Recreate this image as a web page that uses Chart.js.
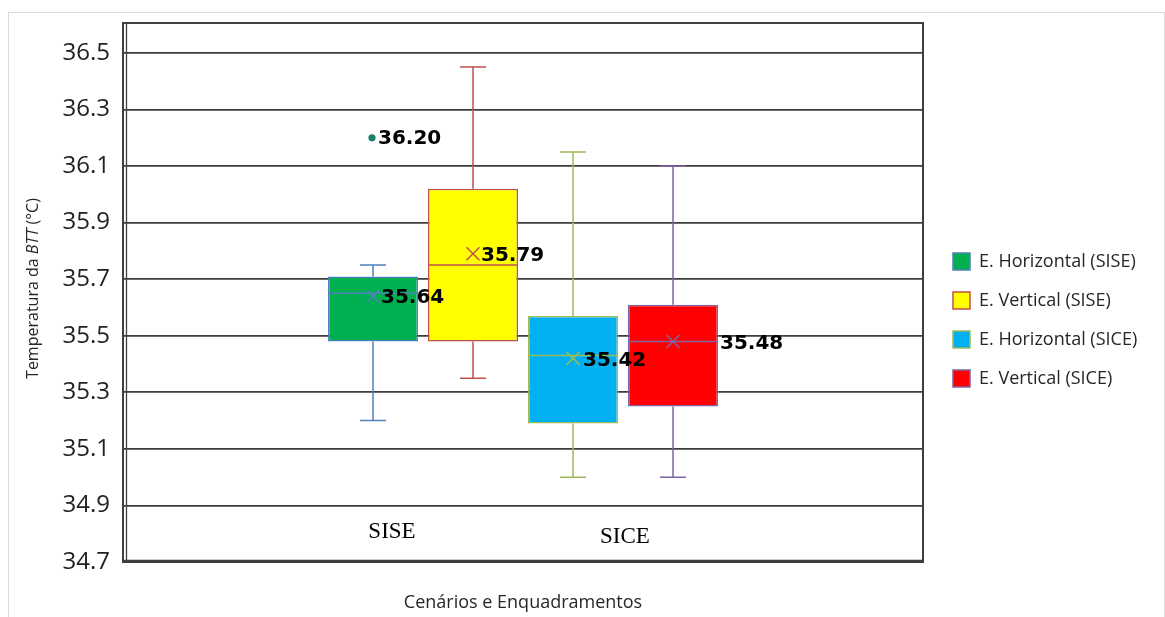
<!DOCTYPE html>
<html>
<head>
<meta charset="utf-8">
<script src="https://cdn.jsdelivr.net/npm/chart.js@4.4.1/dist/chart.umd.min.js"></script>
<style>
  html, body { margin: 0; padding: 0; background: #fff; overflow: hidden; }
  #frame { position: absolute; left: 8px; top: 12px; width: 1157px; height: 700px;
           border: 1px solid #dcdcdc; box-sizing: border-box; }
  #c { position: absolute; left: 0; top: 0; }
</style>
</head>
<body>
<div id="frame"></div>
<canvas id="c" width="1165" height="617"></canvas>
<script>
// Box-plot summary per series (°C)
const seriesNames = ['E. Horizontal (SISE)', 'E. Vertical (SISE)', 'E. Horizontal (SICE)', 'E. Vertical (SICE)'];
const groupNames  = ['SISE', 'SICE'];
const whiskerLow  = [35.20, 35.35, 35.00, 35.00];
const q1          = [35.48, 35.48, 35.19, 35.25];
const median      = [35.65, 35.75, 35.43, 35.48];
const q3          = [35.71, 36.02, 35.57, 35.61];
const whiskerHigh = [35.75, 36.45, 36.15, 36.10];
const means       = [35.64, 35.79, 35.42, 35.48];
const outliers    = [[36.20], [], [], []];
const yTicks      = [34.7, 34.9, 35.1, 35.3, 35.5, 35.7, 35.9, 36.1, 36.3, 36.5];

// Styling
const fillColors = ['#00B050', '#FFFF00', '#00B0F0', '#FF0000'];
const lineColors = ['#4F81BD', '#C0504D', '#9BBB59', '#8064A2'];
const meanLabelDx = [8, 8, 10, 47];
const groupLabelShift = [[-31, -30], [2, -25]];
const labelFont = 'bold 20px "DejaVu Sans"';
const PLOT_RIGHT = 923;     // right edge of the plot frame
const LEGEND_INSET = 9;     // extra gap between plot frame and legend

const datasets = seriesNames.map((name, i) => ({
  label: name,
  data: [[q1[i], q3[i]]],
  backgroundColor: fillColors[i],
  borderColor: lineColors[i],
  borderWidth: 1.5,
  borderSkipped: false,
  categoryPercentage: 0.5,
  barPercentage: 0.9
}));

// Keeps the legend column at a fixed width so the plot frame ends at PLOT_RIGHT
const legendLayoutPlugin = {
  id: 'legendLayout',
  beforeLayout(chart) {
    const L = chart.legend;
    if (L && !L._fixedFit) {
      const fit = L.fit.bind(L);
      L.fit = function () { fit(); this.width = chart.width - PLOT_RIGHT; };
      L._fixedFit = true;
    }
  },
  afterLayout(chart) {
    const L = chart.legend;
    if (L) { L.left += LEGEND_INSET; L.right += LEGEND_INSET; }
  }
};

// Whiskers, medians, means, outliers and value labels
const boxPlotPlugin = {
  id: 'boxPlot',
  beforeDatasetsDraw(chart) {
    const ctx = chart.ctx, a = chart.chartArea;
    ctx.save();
    ctx.strokeStyle = '#3f3f3f';
    ctx.lineWidth = 2;
    ctx.strokeRect(a.left, a.top, a.right - a.left, a.bottom - a.top);
    ctx.lineWidth = 1.3;
    ctx.beginPath();
    ctx.moveTo(a.left + 3.5, a.top + 1);
    ctx.lineTo(a.left + 3.5, a.bottom);
    ctx.moveTo(a.left, a.bottom - 1.5);
    ctx.lineTo(a.right, a.bottom - 1.5);
    ctx.stroke();
    ctx.restore();
  },
  afterDatasetsDraw(chart) {
    const ctx = chart.ctx, y = chart.scales.y;
    chart.data.datasets.forEach((ds, i) => {
      const bar = chart.getDatasetMeta(i).data[0];
      const cx = bar.x, half = bar.width / 2, cap = 13;
      const pLo = y.getPixelForValue(whiskerLow[i]);
      const pQ1 = y.getPixelForValue(q1[i]);
      const pMed = y.getPixelForValue(median[i]);
      const pQ3 = y.getPixelForValue(q3[i]);
      const pHi = y.getPixelForValue(whiskerHigh[i]);
      const pMean = y.getPixelForValue(means[i]);
      ctx.save();
      ctx.strokeStyle = lineColors[i];
      ctx.lineWidth = 1.5;
      ctx.beginPath();
      ctx.moveTo(cx, pQ1); ctx.lineTo(cx, pLo);
      ctx.moveTo(cx, pQ3); ctx.lineTo(cx, pHi);
      ctx.moveTo(cx - cap, pLo); ctx.lineTo(cx + cap, pLo);
      ctx.moveTo(cx - cap, pHi); ctx.lineTo(cx + cap, pHi);
      ctx.moveTo(cx - half, pMed); ctx.lineTo(cx + half, pMed);
      // mean marker (x)
      const m = 6.5;
      ctx.moveTo(cx - m, pMean - m); ctx.lineTo(cx + m, pMean + m);
      ctx.moveTo(cx - m, pMean + m); ctx.lineTo(cx + m, pMean - m);
      ctx.stroke();

      ctx.font = labelFont;
      ctx.fillStyle = '#000';
      ctx.textAlign = 'left';
      ctx.textBaseline = 'middle';
      ctx.fillText(means[i].toFixed(2), cx + meanLabelDx[i], pMean + 2);

      outliers[i].forEach(v => {
        const py = y.getPixelForValue(v);
        ctx.beginPath();
        ctx.arc(cx - 1, py, 3.6, 0, Math.PI * 2);
        ctx.fillStyle = '#1A7F68';
        ctx.fill();
        ctx.fillStyle = '#000';
        ctx.fillText(v.toFixed(2), cx + 5, py + 1);
      });
      ctx.restore();
    });

    // scenario names
    ctx.save();
    ctx.font = '23px "Liberation Serif"';
    ctx.fillStyle = '#000';
    ctx.textAlign = 'center';
    ctx.textBaseline = 'middle';
    groupNames.forEach((g, k) => {
      const b0 = chart.getDatasetMeta(k * 2).data[0];
      const b1 = chart.getDatasetMeta(k * 2 + 1).data[0];
      const gx = (b0.x + b1.x) / 2 + groupLabelShift[k][0];
      const gy = chart.chartArea.bottom + groupLabelShift[k][1];
      ctx.fillText(g, gx, gy);
    });
    ctx.restore();
  },
  afterDraw(chart) {
    const ctx = chart.ctx, a = chart.chartArea;
    ctx.save();
    ctx.fillStyle = '#262626';
    ctx.textBaseline = 'middle';
    // x-axis title
    ctx.font = '18px "Open Sans"';
    ctx.textAlign = 'center';
    ctx.fillText('Cenários e Enquadramentos', (a.left + a.right) / 2, a.bottom + 41);
    // y-axis title with italic part
    const parts = [['Temperatura da ', '16px "Open Sans"'], ['BTT', 'italic 16px "Open Sans"'], [' (°C)', '16px "Open Sans"']];
    let total = 0;
    parts.forEach(p => { ctx.font = p[1]; total += ctx.measureText(p[0]).width; });
    ctx.translate(33, (a.top + a.bottom) / 2 - 4);
    ctx.rotate(-Math.PI / 2);
    ctx.textAlign = 'left';
    let x = -total / 2;
    parts.forEach(p => { ctx.font = p[1]; ctx.fillText(p[0], x, 0); x += ctx.measureText(p[0]).width; });
    ctx.restore();
  }
};

new Chart(document.getElementById('c'), {
  type: 'bar',
  data: { labels: [''], datasets },
  plugins: [legendLayoutPlugin, boxPlotPlugin],
  options: {
    responsive: false,
    animation: false,
    devicePixelRatio: 1,
    layout: { padding: { top: 23, right: 0, bottom: 0, left: 0 } },
    plugins: {
      tooltip: { enabled: false },
      legend: {
        position: 'right',
        labels: {
          boxWidth: 17, boxHeight: 17, padding: 21,
          color: '#262626',
          font: { family: 'Open Sans', size: 18 }
        }
      }
    },
    scales: {
      x: {
        type: 'category',
        grid: { display: false },
        border: { display: false },
        ticks: { display: false },
        afterFit(s) { s.height = 55; }
      },
      y: {
        min: 34.7,
        max: 36.606,
        afterBuildTicks(s) { s.ticks = yTicks.map(v => ({ value: v })); },
        grid: { color: '#3d3d3d', lineWidth: 1.8, drawTicks: true, tickLength: 13, tickColor: 'rgba(0,0,0,0)' },
        border: { display: false },
        ticks: {
          padding: 0,
          color: '#222',
          font: { family: 'Open Sans', size: 24 },
          callback: v => Number(v).toFixed(1)
        },
        afterFit(s) { s.width = 123; }
      }
    }
  }
});
</script>
</body>
</html>
